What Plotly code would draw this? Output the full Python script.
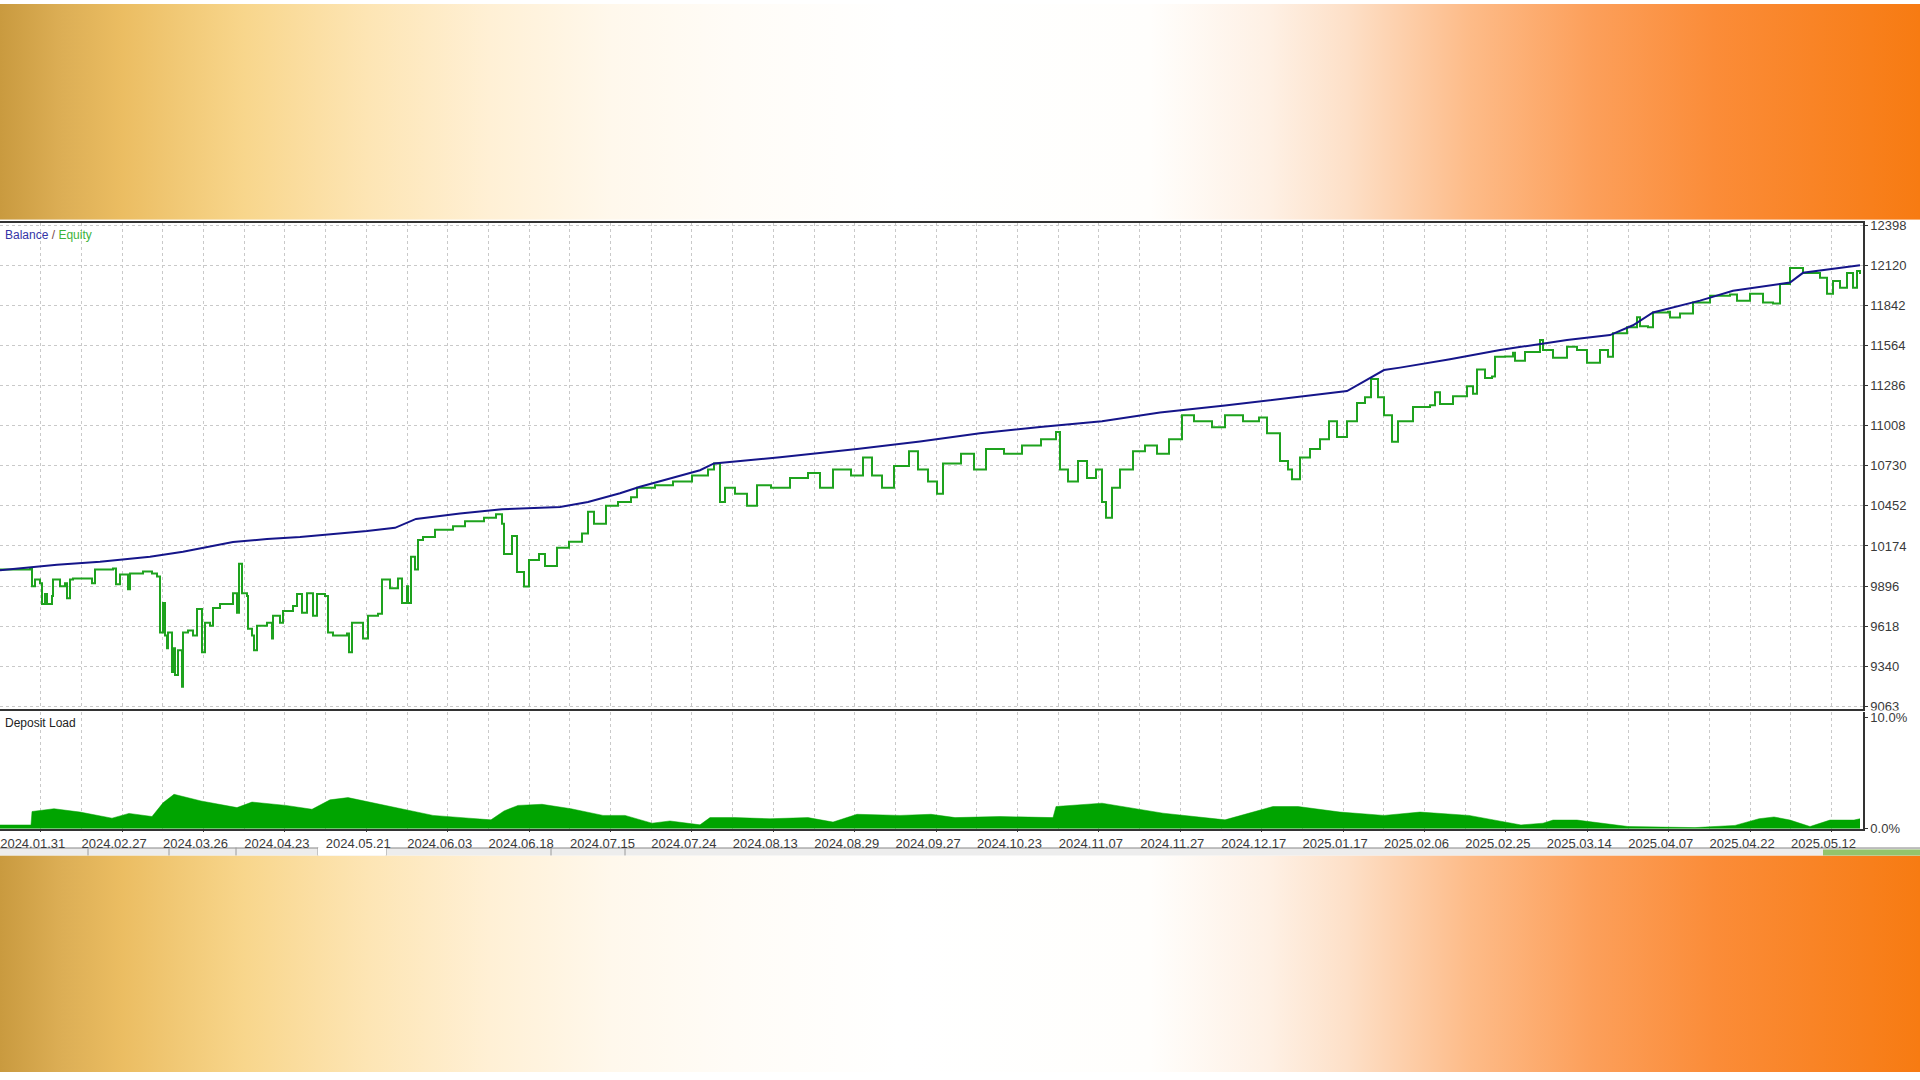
import base64
import plotly.graph_objects as go

W, H = 1920, 1080

# ---------------- data ----------------
# x = deal position along the tester timeline, y = account value
equity_x = [0, 10, 30, 32, 35, 40, 42, 45, 47, 52, 53, 60, 65, 67, 70, 73, 90, 92, 95, 113,
            116, 120, 128, 130, 143, 152, 157, 160, 163, 165, 167, 168, 172, 173, 175, 178, 182, 183, 188, 193,
            197, 202, 205, 210, 213, 220, 230, 233, 237, 239, 242, 247, 248, 252, 254, 257, 263, 267, 272, 273,
            280, 283, 293, 297, 302, 307, 313, 317, 325, 328, 333, 347, 349, 352, 358, 363, 368, 378, 382, 390,
            398, 402, 407, 408, 411, 415, 418, 423, 435, 453, 465, 484, 496, 502, 504, 512, 517, 524, 529, 539,
            545, 557, 569, 582, 588, 594, 606, 618, 631, 637, 655, 673, 692, 708, 714, 720, 725, 735, 747, 757,
            771, 790, 808, 820, 833, 851, 863, 872, 882, 894, 909, 918, 928, 937, 943, 961, 974, 986, 1004, 1022,
            1041, 1056, 1060, 1068, 1078, 1087, 1096, 1102, 1106, 1112, 1120, 1133, 1145, 1157, 1169, 1182, 1194, 1212, 1225, 1243,
            1259, 1267, 1280, 1288, 1292, 1300, 1310, 1320, 1329, 1337, 1347, 1357, 1365, 1371, 1378, 1384, 1392, 1398, 1413, 1430,
            1435, 1440, 1453, 1467, 1473, 1477, 1485, 1492, 1495, 1505, 1513, 1515, 1525, 1540, 1543, 1553, 1567, 1577, 1587, 1600,
            1608, 1613, 1627, 1637, 1640, 1648, 1653, 1668, 1670, 1680, 1693, 1710, 1730, 1737, 1750, 1763, 1773, 1780, 1790, 1803,
            1820, 1827, 1833, 1840, 1847, 1853, 1857, 1860]
equity_y = [10010, 10010, 10017, 9894, 9942, 9915, 9771, 9840, 9771, 9826, 9942, 9894, 9915, 9812, 9942, 9949, 9949, 9915, 10010, 10017,
            9908, 9976, 9874, 9983, 9997, 9983, 9963, 9573, 9778, 9553, 9464, 9573, 9299, 9464, 9279, 9450, 9197, 9573, 9587, 9553,
            9737, 9436, 9641, 9621, 9744, 9771, 9771, 9846, 9710, 10051, 9846, 9826, 9600, 9553, 9450, 9621, 9621, 9641, 9532, 9689,
            9641, 9723, 9757, 9840, 9710, 9846, 9689, 9840, 9826, 9573, 9553, 9566, 9436, 9641, 9641, 9532, 9689, 9703, 9942, 9881,
            9949, 9778, 9894, 9778, 10099, 10010, 10215, 10236, 10286, 10311, 10345, 10370, 10395, 10328, 10119, 10244, 9993, 9893, 10077, 10119,
            10035, 10161, 10203, 10261, 10412, 10328, 10454, 10479, 10513, 10579, 10596, 10621, 10663, 10705, 10747, 10479, 10579, 10537, 10454, 10596,
            10579, 10646, 10680, 10579, 10705, 10663, 10789, 10663, 10579, 10730, 10831, 10705, 10621, 10537, 10747, 10814, 10705, 10847, 10814, 10872,
            10914, 10965, 10705, 10621, 10764, 10646, 10705, 10479, 10370, 10579, 10705, 10831, 10872, 10814, 10914, 11082, 11040, 10998, 11082, 11040,
            11065, 10956, 10764, 10705, 10638, 10789, 10847, 10914, 11040, 10931, 11040, 11166, 11207, 11333, 11207, 11082, 10898, 11040, 11139, 11150,
            11241, 11160, 11214, 11282, 11230, 11399, 11340, 11350, 11487, 11490, 11515, 11460, 11520, 11604, 11535, 11481, 11556, 11535, 11446, 11535,
            11487, 11651, 11693, 11761, 11700, 11693, 11795, 11800, 11760, 11788, 11864, 11911, 11920, 11877, 11925, 11864, 11857, 11993, 12103, 12069,
            12035, 11925, 12014, 11966, 12069, 11966, 12082, 12062]

balance_x = [0, 57, 100, 150, 183, 207, 233, 267, 300, 367, 395, 416, 460, 502, 560, 588, 620, 640, 700, 714,
             780, 857, 920, 980, 1040, 1102, 1160, 1225, 1290, 1347, 1365, 1384, 1400, 1450, 1500, 1567, 1610, 1633, 1653, 1700,
             1733, 1790, 1803, 1860]
balance_y = [10005, 10044, 10065, 10099, 10134, 10168, 10202, 10222, 10236, 10278, 10300, 10362, 10400, 10429, 10445, 10479, 10540, 10585, 10700, 10747,
             10790, 10847, 10900, 10956, 11000, 11040, 11100, 11149, 11200, 11249, 11320, 11395, 11412, 11470, 11535, 11603, 11638, 11706, 11795, 11877,
             11946, 12003, 12070, 12123]

deposit_x = [0, 31, 32, 54, 80, 112, 129, 152, 163, 174, 201, 237, 252, 286, 312, 330, 348, 379, 402, 433,
             469, 491, 504, 518, 542, 571, 603, 625, 652, 670, 700, 710, 735, 770, 808, 833, 857, 900, 931, 955,
             1000, 1053, 1056, 1102, 1163, 1225, 1273, 1298, 1340, 1384, 1420, 1469, 1521, 1543, 1553, 1577, 1628, 1695, 1735, 1759,
             1774, 1790, 1810, 1830, 1854, 1860]
deposit_pct = [0.34, 0.34, 1.55, 1.8, 1.5, 0.95, 1.38, 1.1, 2.33, 3.1, 2.5, 1.9, 2.4, 2.1, 1.75, 2.6, 2.8, 2.2, 1.8, 1.2,
               0.95, 0.8, 1.6, 2.1, 2.2, 1.8, 1.2, 1.2, 0.5, 0.7, 0.35, 1.0, 1.0, 0.9, 1.0, 0.6, 1.3, 1.2, 1.3, 1.0,
               1.1, 1.0, 2.0, 2.3, 1.4, 0.8, 2.0, 2.0, 1.5, 1.2, 1.5, 1.2, 0.34, 0.5, 0.78, 0.78, 0.2, 0.1, 0.3, 0.9,
               1.06, 0.78, 0.2, 0.78, 0.78, 0.9]

y_ticks = [9063, 9340, 9618, 9896, 10174, 10452, 10730, 11008, 11286, 11564, 11842, 12120, 12398]
date_labels = ["2024.01.31", "2024.02.27", "2024.03.26", "2024.04.23", "2024.05.21", "2024.06.03",
               "2024.06.18", "2024.07.15", "2024.07.24", "2024.08.13", "2024.08.29", "2024.09.27",
               "2024.10.23", "2024.11.07", "2024.11.27", "2024.12.17", "2025.01.17", "2025.02.06",
               "2025.02.25", "2025.03.14", "2025.04.07", "2025.04.22", "2025.05.12"]

# ---------------- styling ----------------
FONT = "Tahoma, 'Liberation Sans', Arial, sans-serif"
GRID = "#c9c9c9"
AXIS = "#333333"
X_MAX = 1863
GRID_STEP = 40.7


def px(x, y):
    return x / W, 1 - y / H


# background: gradient bands with a white window in the middle
stops = [(0, (201, 154, 63)), (61, (220, 174, 85)), (122, (235, 189, 98)), (245, (248, 214, 140)),
         (367, (253, 229, 180)), (490, (255, 240, 213)), (612, (255, 248, 236)), (735, (255, 252, 247)),
         (900, (255, 255, 255)), (1150, (255, 254, 252)), (1270, (254, 240, 228)), (1347, (253, 224, 200)),
         (1470, (253, 187, 136)), (1592, (252, 159, 90)), (1714, (251, 140, 56)), (1920, (247, 123, 18))]
stop_xml = "".join(
    f"<stop offset='{p / W:.4f}' stop-color='rgb({c[0]},{c[1]},{c[2]})'/>" for p, c in stops)
svg = (f"<svg xmlns='http://www.w3.org/2000/svg' width='{W}' height='{H}' viewBox='0 0 {W} {H}'>"
       f"<defs><linearGradient id='g' x1='0' y1='0' x2='1' y2='0'>{stop_xml}</linearGradient></defs>"
       f"<rect width='{W}' height='{H}' fill='url(#g)'/>"
       f"<rect x='0' y='218' width='{W}' height='643' fill='#ffffff'/>"
       f"</svg>")
svg_uri = "data:image/svg+xml;base64," + base64.b64encode(svg.encode()).decode()

fig = go.Figure()

fig.add_trace(go.Scatter(x=equity_x, y=equity_y, mode="lines", line=dict(color="#1ea21e", width=2, shape="hv"),
                         xaxis="x", yaxis="y", hoverinfo="skip"))
fig.add_trace(go.Scatter(x=balance_x, y=balance_y, mode="lines", line=dict(color="#15158a", width=2),
                         xaxis="x", yaxis="y", hoverinfo="skip"))
fig.add_trace(go.Scatter(x=deposit_x, y=deposit_pct, mode="lines", fill="tozeroy", fillcolor="#00a400",
                         line=dict(color="#00a400", width=0.5), xaxis="x2", yaxis="y2", hoverinfo="skip"))

x_dom = [0, X_MAX / W]
main_dom = [1 - 713 / H, 1 - 221 / H]
dep_dom = [1 - 834 / H, 1 - 716 / H]

date_pos = [GRID_STEP * (2 * i + 1) for i in range(len(date_labels))]

shapes = []
# tab strip under the chart
x0, y0 = px(0, 853)
x1, y1 = px(W, 861)
shapes.append(dict(type="rect", xref="paper", yref="paper", x0=x0, y0=y1, x1=x1, y1=y0,
                   fillcolor="#ededed", line=dict(width=0), layer="below"))
for a, b in [(0, 318), (386, W)]:
    xa, ya = px(a, 853.5)
    xb, _ = px(b, 853.5)
    shapes.append(dict(type="line", xref="paper", yref="paper", x0=xa, y0=ya, x1=xb, y1=ya,
                       line=dict(color="#8c8c8c", width=1), layer="below"))
for xv in [88, 169, 236, 318, 386, 551, 625]:
    xa, ya = px(xv, 853)
    _, yb = px(xv, 861)
    shapes.append(dict(type="line", xref="paper", yref="paper", x0=xa, y0=ya, x1=xa, y1=yb,
                       line=dict(color="#9a9a9a", width=1), layer="below"))
xa, ya = px(318, 853)
xb, yb = px(386, 861)
shapes.append(dict(type="rect", xref="paper", yref="paper", x0=xa, y0=yb, x1=xb, y1=ya,
                   fillcolor="#ffffff", line=dict(width=0), layer="below"))
xa, ya = px(1823, 855)
xb, yb = px(W, 861)
shapes.append(dict(type="rect", xref="paper", yref="paper", x0=xa, y0=yb, x1=xb, y1=ya,
                   fillcolor="#93c46b", line=dict(width=0), layer="below"))
# clip the lowest main-axis label at the panel edge
xa, ya = px(1865, 714.5)
xb, yb = px(W, 716)
shapes.append(dict(type="rect", xref="paper", yref="paper", x0=xa, y0=yb, x1=xb, y1=ya,
                   fillcolor="#ffffff", line=dict(width=0), layer="above"))

ax_font = dict(family=FONT, size=13, color="#3a3a3a")

fig.update_layout(
    width=W, height=H,
    margin=dict(l=0, r=0, t=0, b=0),
    paper_bgcolor="#ffffff",
    plot_bgcolor="#ffffff",
    showlegend=False,
    hovermode=False,
    images=[dict(source=svg_uri, xref="paper", yref="paper", x=0, y=1, sizex=1, sizey=1,
                 xanchor="left", yanchor="top", sizing="stretch", layer="below")],
    shapes=shapes,
    xaxis=dict(domain=x_dom, range=[0, X_MAX], anchor="y", tickmode="linear", tick0=0, dtick=GRID_STEP,
               showticklabels=False, ticks="", showgrid=True, gridcolor=GRID, griddash="3px,3px", gridwidth=1,
               showline=True, mirror=True, linecolor=AXIS, linewidth=1.5, zeroline=False, fixedrange=True),
    yaxis=dict(domain=main_dom, range=[9042, 12419], anchor="x", side="right", tickmode="array",
               tickvals=y_ticks, ticktext=[str(v) for v in y_ticks], ticks="outside", ticklen=3,
               tickcolor=AXIS, tickfont=ax_font, showgrid=True, gridcolor=GRID, griddash="3px,3px",
               showline=True, linecolor=AXIS, linewidth=1.5, zeroline=False, fixedrange=True),
    xaxis2=dict(domain=x_dom, range=[0, X_MAX], anchor="y2", tickmode="array", tickvals=date_pos,
                ticktext=date_labels, ticks="outside", ticklen=2, tickcolor=AXIS, tickfont=ax_font,
                ticklabelshift=-8, showgrid=True, gridcolor=GRID, griddash="3px,3px",
                minor=dict(tickmode="linear", tick0=0, dtick=GRID_STEP, showgrid=True, gridcolor=GRID,
                           griddash="3px,3px", ticks=""),
                showline=True, linecolor=AXIS, linewidth=1.5, zeroline=False, fixedrange=True),
    yaxis2=dict(domain=dep_dom, range=[0, 10.5], anchor="x2", side="right", tickmode="array",
                tickvals=[0, 10], ticktext=["0.0%", "10.0%"], ticks="outside", ticklen=3, tickcolor=AXIS,
                tickfont=ax_font, showgrid=False, showline=True, linecolor=AXIS, linewidth=1.5,
                zeroline=False, fixedrange=True),
    annotations=[
        dict(xref="paper", yref="paper", x=px(3, 224)[0], y=px(3, 224)[1], xanchor="left", yanchor="top",
             showarrow=False, align="left",
             text="<span style='color:#3434a6'>Balance</span> <span style='color:#7a4a4a'>/</span> "
                  "<span style='color:#3cb43c'>Equity</span>",
             font=dict(family=FONT, size=12)),
        dict(xref="paper", yref="paper", x=px(3, 718)[0], y=px(3, 718)[1], xanchor="left", yanchor="top",
             showarrow=False, text="Deposit Load", font=dict(family=FONT, size=12, color="#222222")),
    ],
)

fig.write_html("out.html", config={"displayModeBar": False},
               post_script="document.body.style.margin='0';document.body.style.overflow='hidden';")
